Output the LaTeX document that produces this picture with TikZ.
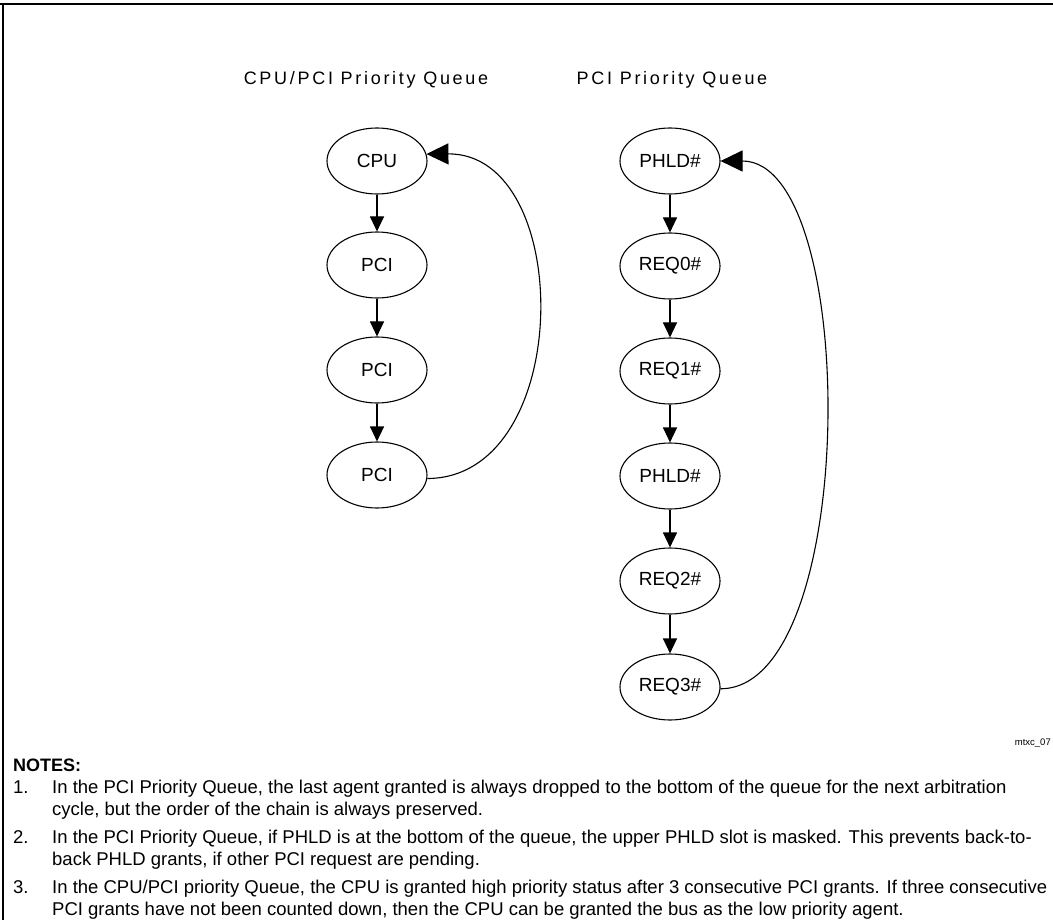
\documentclass[tikz,border=0pt]{standalone}
\usepackage{fontspec}
\setmainfont{Liberation Sans}
\usetikzlibrary{arrows.meta,shapes.geometric}
\begin{document}
\begin{tikzpicture}[x=1pt,y=-1pt,
  q/.style={ellipse,draw,line width=1.1pt,minimum width=100pt,minimum height=66pt,inner sep=0pt,font=\fontsize{19}{22}\selectfont},
  down/.style={-{Triangle[length=15pt,width=14pt]},line width=1.1pt},
  back/.style={-{Triangle[length=22pt,width=21pt]},line width=1.1pt},
  note/.style={anchor=base west,inner sep=0pt,font=\fontsize{18.5}{22}\selectfont},
  title/.style={anchor=base,inner sep=0pt,font=\fontsize{18}{21}\selectfont\addfontfeature{LetterSpace=15}}
]
\useasboundingbox (0,0) rectangle (1053,920);
\draw[line width=2pt] (0,4) -- (1053,4);
\draw[line width=2pt] (3,3) -- (3,920);

\node[title] (t1) at (366,85) {CPU/PCI Priority Queue};
\node[title] (t2) at (672,85) {PCI Priority Queue};

\node[q] (c)  at (377,161) {CPU};
\node[q] (p1) at (377,265) {PCI};
\node[q] (p2) at (377,370) {PCI};
\node[q] (p3) at (377,475) {PCI};

\node[q] (h1) at (670,161) {PHLD\#};
\node[q] (r0) at (670,266) {REQ0\#};
\node[q] (r1) at (670,371) {REQ1\#};
\node[q] (h2) at (670,476) {PHLD\#};
\node[q] (r2) at (670,581) {REQ2\#};
\node[q] (r3) at (670,687) {REQ3\#};

\draw[down] (c.south) -- (p1.north);
\draw[down] (p1.south) -- (p2.north);
\draw[down] (p2.south) -- (p3.north);
\draw[down] (h1.south) -- (r0.north);
\draw[down] (r0.south) -- (r1.north);
\draw[down] (r1.south) -- (h2.north);
\draw[down] (h2.south) -- (r2.north);
\draw[down] (r2.south) -- (r3.north);

\draw[back] (p3.-4) .. controls (575,478) and (575,153) .. (c.8);
\draw[back] (r3.-2) .. controls (860,689) and (860,161) .. (h1.east);

\node[anchor=base east,inner sep=0pt,font=\fontsize{9.5}{11}\selectfont] (tag) at (1051,745) {mtxc\_07};

\node[note,font=\fontsize{18}{21}\selectfont\bfseries] (notes) at (13,771) {NOTES:};
\node[note] (n1) at (13,793) {1.};
\node[note] (n1a) at (52,793) {In the PCI Priority Queue, the last agent granted is always dropped to the bottom of the queue for the next arbitration};
\node[note] (n1b) at (52,815) {cycle, but the order of the chain is always preserved.};
\node[note] (n2) at (13,843) {2.};
\node[note] (n2a) at (52,843) {In the PCI Priority Queue, if PHLD is at the bottom of the queue, the upper PHLD slot is masked. This prevents back-to-};
\node[note] (n2b) at (52,865) {back PHLD grants, if other PCI request are pending.};
\node[note] (n3) at (13,893) {3.};
\node[note] (n3a) at (52,893) {In the CPU/PCI priority Queue, the CPU is granted high priority status after 3 consecutive PCI grants. If three consecutive};
\node[note] (n3b) at (52,915) {PCI grants have not been counted down, then the CPU can be granted the bus as the low priority agent.};
\end{tikzpicture}
\end{document}
